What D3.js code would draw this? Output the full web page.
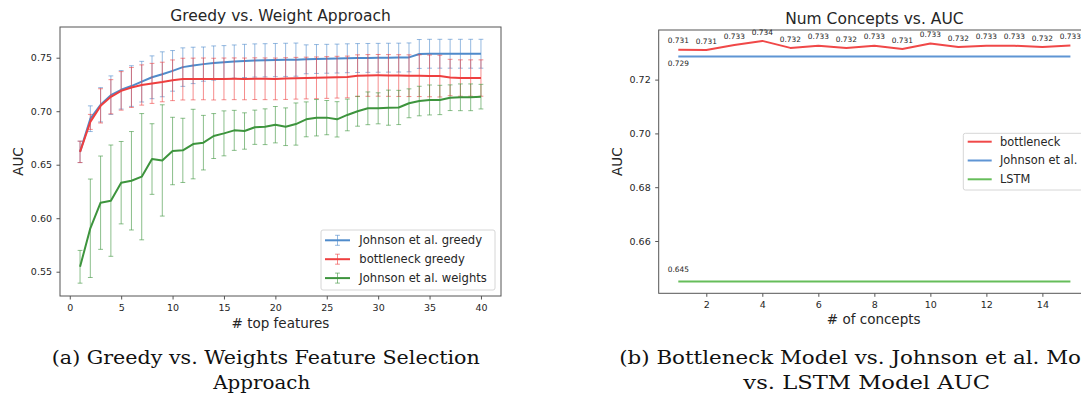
<!DOCTYPE html>
<html>
<head>
<meta charset="utf-8">
<script src="https://cdn.jsdelivr.net/npm/d3@7"></script>
<style>
  html, body { margin: 0; padding: 0; background: #fff; overflow: hidden; }
  svg { display: block; }
  text { font-family: "DejaVu Sans", sans-serif; fill: #262626; }
  .caption { font-family: "DejaVu Serif", serif; fill: #111; }
</style>
</head>
<body>
<svg id="fig" width="1081" height="403"></svg>
<script>
// left panel: greedy vs weight approach
const topFeatures = [1, 2, 3, 4, 5, 6, 7, 8, 9, 10, 11, 12, 13, 14, 15, 16, 17, 18, 19, 20,
  21, 22, 23, 24, 25, 26, 27, 28, 29, 30, 31, 32, 33, 34, 35, 36, 37, 38, 39, 40];
const johnsonGreedy = [0.662, 0.693, 0.706, 0.715, 0.720, 0.7235, 0.7276, 0.7317, 0.7345, 0.7377,
  0.7412, 0.7428, 0.744, 0.745, 0.7458, 0.7464, 0.747, 0.7474, 0.7476, 0.7478,
  0.748, 0.7482, 0.7485, 0.7488, 0.749, 0.7492, 0.7495, 0.7497, 0.7498, 0.7499,
  0.750, 0.7501, 0.7503, 0.7535, 0.7537, 0.7537, 0.7537, 0.7537, 0.7537, 0.7537];
const johnsonGreedyErr = [0.010, 0.012, 0.016, 0.018, 0.018, 0.019, 0.019, 0.020, 0.021, 0.019,
  0.018, 0.017, 0.016, 0.016, 0.0155, 0.0155, 0.0155, 0.0155, 0.0155, 0.0155,
  0.0155, 0.0155, 0.0135, 0.0135, 0.0135, 0.0135, 0.0135, 0.0135, 0.0135, 0.0135,
  0.0135, 0.0135, 0.0135, 0.0135, 0.0135, 0.0135, 0.0135, 0.0135, 0.0135, 0.0135];
const bottleneckGreedy = [0.662, 0.690, 0.705, 0.7135, 0.719, 0.7222, 0.7245, 0.726, 0.7273, 0.7289,
  0.730, 0.7301, 0.7302, 0.730, 0.7302, 0.7303, 0.7302, 0.7304, 0.7303, 0.7302,
  0.7305, 0.7308, 0.731, 0.7312, 0.7315, 0.7318, 0.732, 0.7332, 0.7334, 0.7335,
  0.7334, 0.7333, 0.7332, 0.7332, 0.733, 0.7328, 0.7315, 0.731, 0.731, 0.731];
const bottleneckGreedyErr = [0.010, 0.007, 0.016, 0.016, 0.018, 0.0187, 0.0188, 0.0187, 0.0185, 0.019,
  0.0195, 0.0195, 0.0195, 0.0195, 0.0195, 0.0195, 0.0195, 0.0195, 0.0195, 0.0195,
  0.0195, 0.0195, 0.0195, 0.0195, 0.0195, 0.0195, 0.0195, 0.0195, 0.0195, 0.0195,
  0.0195, 0.0195, 0.0195, 0.0195, 0.0195, 0.0195, 0.017, 0.017, 0.017, 0.017];
const johnsonWeights = [0.5546, 0.5906, 0.6145, 0.6164, 0.6332, 0.635, 0.6388, 0.6553, 0.654, 0.6628,
  0.6634, 0.6693, 0.6706, 0.6768, 0.6793, 0.6821, 0.6815, 0.685, 0.6855, 0.6874,
  0.6855, 0.688, 0.6924, 0.6939, 0.694, 0.6924, 0.6965, 0.700, 0.7027, 0.7027,
  0.7033, 0.7035, 0.7074, 0.7095, 0.7105, 0.7105, 0.7126, 0.713, 0.713, 0.7136];
const johnsonWeightsErr = [0.0153, 0.046, 0.0436, 0.052, 0.0385, 0.046, 0.059, 0.033, 0.052, 0.0315,
  0.030, 0.0325, 0.0255, 0.021, 0.021, 0.0187, 0.017, 0.016, 0.0167, 0.017,
  0.0176, 0.0197, 0.0163, 0.017, 0.016, 0.0165, 0.0148, 0.014, 0.0153, 0.0145,
  0.0164, 0.016, 0.0135, 0.0138, 0.014, 0.0137, 0.012, 0.0125, 0.0125, 0.0115];
const leftXTicks = [0, 5, 10, 15, 20, 25, 30, 35, 40];
const leftYTicks = [0.55, 0.60, 0.65, 0.70, 0.75];

// right panel: num concepts vs AUC
const numConcepts = [1, 2, 3, 4, 5, 6, 7, 8, 9, 10, 11, 12, 13, 14, 15];
const bottleneckAuc = [0.7311, 0.7310, 0.7329, 0.7344, 0.7318, 0.7326, 0.7318, 0.7326, 0.7314, 0.7334,
  0.7321, 0.7326, 0.7326, 0.7321, 0.7327];
const johnsonAuc = [0.7286, 0.7286, 0.7286, 0.7286, 0.7286, 0.7286, 0.7286, 0.7286, 0.7286, 0.7286,
  0.7286, 0.7286, 0.7286, 0.7286, 0.7286];
const lstmAuc = [0.6449, 0.6449, 0.6449, 0.6449, 0.6449, 0.6449, 0.6449, 0.6449, 0.6449, 0.6449,
  0.6449, 0.6449, 0.6449, 0.6449, 0.6449];
const rightXTicks = [2, 4, 6, 8, 10, 12, 14];
const rightYTicks = [0.66, 0.68, 0.70, 0.72];

const svg = d3.select('#fig');
const fmt3 = d3.format('.3f');
const tickFont = 9.5;

function frame(g, x, y, title, xlabel, xTicks, yTicks, yFmt, labelX) {
  const [x0, x1] = x.range();
  const [y1, y0] = y.range();
  g.append('g')
    .attr('transform', `translate(0,${y1})`)
    .call(d3.axisBottom(x).tickValues(xTicks).tickSize(3.5).tickPadding(4.5).tickFormat(d3.format('d')))
    .call(a => a.select('.domain').remove())
    .call(a => a.selectAll('text').attr('font-size', tickFont).style('font-family', 'DejaVu Sans'));
  g.append('g')
    .attr('transform', `translate(${x0},0)`)
    .call(d3.axisLeft(y).tickValues(yTicks).tickSize(3.5).tickPadding(4.5).tickFormat(yFmt))
    .call(a => a.select('.domain').remove())
    .call(a => a.selectAll('text').attr('font-size', tickFont).style('font-family', 'DejaVu Sans'));
  g.selectAll('.tick line').attr('stroke', '#555');
  g.append('rect')
    .attr('x', x0).attr('y', y0)
    .attr('width', x1 - x0).attr('height', y1 - y0)
    .attr('fill', 'none').attr('stroke', '#555').attr('stroke-width', 1);
  g.append('text')
    .attr('x', (x0 + x1) / 2).attr('y', y0 - 6)
    .attr('text-anchor', 'middle').attr('font-size', 15.5)
    .text(title);
  g.append('text')
    .attr('x', labelX.cx).attr('y', labelX.by)
    .attr('text-anchor', 'middle').attr('font-size', 13.5)
    .text(xlabel);
  g.append('text')
    .attr('transform', `translate(${labelX.ax},${(y0 + y1) / 2}) rotate(-90)`)
    .attr('text-anchor', 'middle').attr('dy', '0.35em').attr('font-size', 13.5)
    .text('AUC');
}

// ---------- left panel ----------
const xL = d3.scaleLinear().domain([-0.95, 41.95]).range([60, 501]);
const yL = d3.scaleLinear().domain([0.5273, 0.7787]).range([296, 27]);
const gL = svg.append('g');
frame(gL, xL, yL, 'Greedy vs. Weight Approach', '# top features', leftXTicks, leftYTicks,
  d3.format('.2f'), { cx: 280.5, by: 328, ax: 18 });

const leftSeries = [
  { name: 'Johnson et al. greedy', mean: johnsonGreedy, err: johnsonGreedyErr, color: '#4f8bcb' },
  { name: 'bottleneck greedy', mean: bottleneckGreedy, err: bottleneckGreedyErr, color: '#ee3f3f' },
  { name: 'Johnson et al. weights', mean: johnsonWeights, err: johnsonWeightsErr, color: '#3d943d' }
];
const cap = 2.4;
const lineL = d3.line().x(d => xL(d.k)).y(d => yL(d.v));
leftSeries.forEach(s => {
  const pts = topFeatures.map((k, i) => ({ k, v: s.mean[i], e: s.err[i] }));
  const eb = gL.append('g').attr('stroke', s.color).attr('stroke-opacity', 0.6).attr('stroke-width', 1);
  eb.selectAll('line.v').data(pts).join('line').attr('class', 'v')
    .attr('x1', d => xL(d.k)).attr('x2', d => xL(d.k))
    .attr('y1', d => yL(d.v - d.e)).attr('y2', d => yL(d.v + d.e));
  eb.selectAll('line.t').data(pts).join('line').attr('class', 't')
    .attr('x1', d => xL(d.k) - cap).attr('x2', d => xL(d.k) + cap)
    .attr('y1', d => yL(d.v + d.e)).attr('y2', d => yL(d.v + d.e));
  eb.selectAll('line.b').data(pts).join('line').attr('class', 'b')
    .attr('x1', d => xL(d.k) - cap).attr('x2', d => xL(d.k) + cap)
    .attr('y1', d => yL(d.v - d.e)).attr('y2', d => yL(d.v - d.e));
  gL.append('path').datum(pts)
    .attr('fill', 'none').attr('stroke', s.color).attr('stroke-width', 2)
    .attr('stroke-linejoin', 'round').attr('d', lineL);
});

// left legend
const legL = gL.append('g');
legL.append('rect').attr('x', 321).attr('y', 230).attr('width', 174).attr('height', 60)
  .attr('rx', 2).attr('fill', '#fff').attr('fill-opacity', 0.85).attr('stroke', '#d6d6d6');
leftSeries.forEach((s, i) => {
  const cy = 240.3 + i * 18.9;
  const h = legL.append('g').attr('stroke', s.color);
  h.append('line').attr('x1', 325).attr('x2', 350).attr('y1', cy).attr('y2', cy).attr('stroke-width', 2);
  h.append('line').attr('x1', 337.5).attr('x2', 337.5).attr('y1', cy - 5).attr('y2', cy + 5).attr('stroke-opacity', 0.6);
  h.append('line').attr('x1', 335.1).attr('x2', 339.9).attr('y1', cy - 5).attr('y2', cy - 5).attr('stroke-opacity', 0.6);
  h.append('line').attr('x1', 335.1).attr('x2', 339.9).attr('y1', cy + 5).attr('y2', cy + 5).attr('stroke-opacity', 0.6);
  legL.append('text').attr('x', 359.3).attr('y', cy).attr('dy', '0.35em')
    .attr('font-size', 11.6).text(s.name);
});

// ---------- right panel ----------
const xR = d3.scaleLinear().domain([0.3, 15.7]).range([658.7, 1090]);
const yR = d3.scaleLinear().domain([0.64055, 0.73845]).range([293.3, 30]);
const gR = svg.append('g');
frame(gR, xR, yR, 'Num Concepts vs. AUC', '# of concepts', rightXTicks, rightYTicks,
  d3.format('.2f'), { cx: 873.7, by: 324, ax: 617.6 });

const rightSeries = [
  { name: 'bottleneck', vals: bottleneckAuc, color: '#f04848', labelAll: true, dy: -6.3 },
  { name: 'Johnson et al.', vals: johnsonAuc, color: '#5f95d4', labelAll: false, dy: 9.4 },
  { name: 'LSTM', vals: lstmAuc, color: '#66bd5a', labelAll: false, dy: -9.3 }
];
const lineR = d3.line().x(d => xR(d.k)).y(d => yR(d.v));
rightSeries.forEach(s => {
  const pts = numConcepts.map((k, i) => ({ k, v: s.vals[i] }));
  gR.append('path').datum(pts)
    .attr('fill', 'none').attr('stroke', s.color).attr('stroke-width', 2)
    .attr('stroke-linejoin', 'round').attr('d', lineR);
  gR.selectAll(null).data(s.labelAll ? pts : pts.slice(0, 1)).join('text')
    .attr('x', d => xR(d.k)).attr('y', d => yR(d.v) + s.dy)
    .attr('text-anchor', 'middle').attr('font-size', 7.4)
    .text(d => fmt3(d.v));
});

// right legend
const legR = gR.append('g');
legR.append('rect').attr('x', 963.3).attr('y', 133.3).attr('width', 130).attr('height', 56.7)
  .attr('rx', 2).attr('fill', '#fff').attr('fill-opacity', 0.85).attr('stroke', '#d6d6d6');
rightSeries.forEach((s, i) => {
  const cy = 141.7 + i * 18.8;
  legR.append('line').attr('x1', 967.7).attr('x2', 991.7).attr('y1', cy).attr('y2', cy)
    .attr('stroke', s.color).attr('stroke-width', 2);
  legR.append('text').attr('x', 1000).attr('y', cy).attr('dy', '0.35em')
    .attr('font-size', 11.4).text(s.name);
});

// ---------- captions ----------
const captionRows = [
  { t: '(a) Greedy vs.  Weights Feature Selection', x: 265.8, y: 364.3, w: 428 },
  { t: 'Approach', x: 261.7, y: 388.5, w: 97 },
  { t: '(b) Bottleneck Model vs.  Johnson et al.  Model', x: 866.7, y: 364.3, w: 495 },
  { t: 'vs.  LSTM Model AUC', x: 866.7, y: 388.5, w: 246.7 }
];
svg.append('g').selectAll('text').data(captionRows).join('text')
  .attr('class', 'caption')
  .attr('x', d => d.x).attr('y', d => d.y)
  .attr('text-anchor', 'middle').attr('font-size', 19)
  .attr('textLength', d => d.w).attr('lengthAdjust', 'spacingAndGlyphs')
  .text(d => d.t);
</script>
</body>
</html>
